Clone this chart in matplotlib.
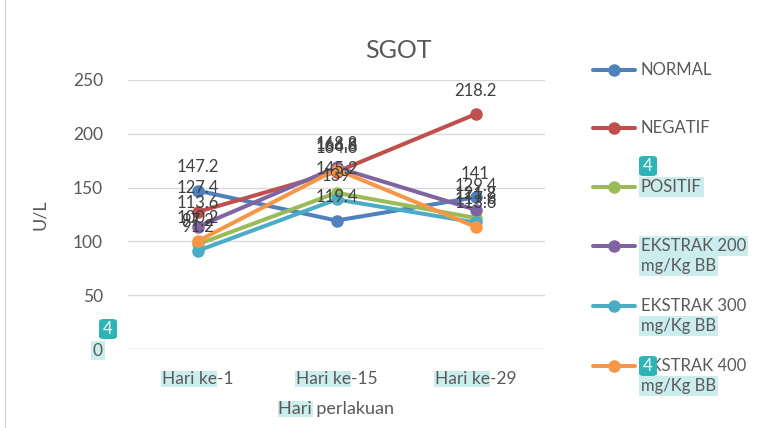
import matplotlib
matplotlib.use("Agg")
import matplotlib.pyplot as plt
from matplotlib.lines import Line2D
from matplotlib.patches import Rectangle, FancyBboxPatch
from matplotlib.transforms import IdentityTransform

categories = ["Hari ke-1", "Hari ke-15", "Hari ke-29"]
series_names = ["NORMAL", "NEGATIF", "POSITIF", "EKSTRAK 200\nmg/Kg BB",
                "EKSTRAK 300\nmg/Kg BB", "EKSTRAK 400\nmg/Kg BB"]
normal = [147.2, 119.4, 141]
negatif = [127.4, 164.6, 218.2]
positif = [97.2, 145.2, 121.8]
ekstrak_200 = [113.6, 168.8, 129.4]
ekstrak_300 = [91.2, 139, 117.6]
ekstrak_400 = [100.2, 166.8, 113.6]
y_ticks = [0, 50, 100, 150, 200, 250]

colors = ["#4F81BD", "#C0504D", "#9BBB59", "#8064A2", "#4BACC6", "#F79646"]
HL = "#cbeded"
BADGE = "#2cb5b4"
TXT = "#595959"
FONT = "Lato"
W, H = 778, 428


def fx(px):
    return px / W


def fy(py):
    return 1 - py / H


plt.rcParams["font.family"] = [FONT, "DejaVu Sans"]
fig = plt.figure(figsize=(W / 100, H / 100), dpi=100)
ax = fig.add_axes([fx(128), fy(349), fx(545) - fx(128), fy(80) - fy(349)])
ax.set_facecolor("none")

all_series = [normal, negatif, positif, ekstrak_200, ekstrak_300, ekstrak_400]
x = list(range(len(categories)))
for i, vals in enumerate(all_series):
    ax.plot(x, vals, color=colors[i], lw=2.9, marker="o", markersize=8,
            solid_capstyle="round", zorder=3 + i)
    for xi, v in zip(x, vals):
        ax.annotate(f"{v:g}", (xi, v), xytext=(0, 17), textcoords="offset points",
                    ha="center", va="center", fontsize=12, color="#404040", zorder=20)

ax.set_xlim(-0.5, 2.5)
ax.set_ylim(0, 250)
ax.set_yticks(y_ticks)
ax.set_xticks(x, categories)
ax.grid(axis="y", color="#d9d9d9", lw=1)
ax.set_axisbelow(True)
for s in ax.spines.values():
    s.set_visible(False)
ax.tick_params(length=0, labelsize=12.5, labelcolor=TXT)
ax.tick_params(axis="y", pad=18)
ax.tick_params(axis="x", pad=16)
ax.set_xlabel("Hari perlakuan", fontsize=13, color=TXT, labelpad=10)
ax.set_ylabel("U/L", fontsize=13, color=TXT, labelpad=18)
fig.text(fx(398), fy(50), "SGOT", fontsize=18, color=TXT, ha="center", va="center")

# highlighted "0"
ax.get_yticklabels()[0].set_bbox(dict(boxstyle="square,pad=0.1", fc=HL, ec="none"))

# legend drawn by hand to keep Excel's spacing
leg_y = [70, 128, 187, 246, 306, 366]
for i, name in enumerate(series_names):
    y = leg_y[i]
    fig.add_artist(Line2D([fx(593), fx(635)], [fy(y), fy(y)], color=colors[i],
                          lw=2.9, solid_capstyle="round"))
    fig.add_artist(Line2D([fx(614)], [fy(y)], color=colors[i], marker="o",
                          markersize=8, lw=0))
    lines = name.split("\n")
    for j, ln in enumerate(lines):
        hl = (i == 2) or (i == 3) or (j == 1)
        t = fig.text(fx(641), fy(y + 20 * j), ln, fontsize=12, color=TXT,
                     ha="left", va="center")
        if hl:
            t.set_bbox(dict(boxstyle="square,pad=0.12", fc=HL, ec="none"))

# left frame edge
fig.add_artist(Line2D([fx(5), fx(5)], [0, 1], color="#d9d9d9", lw=1))

# partial highlights on "Hari ke" and "Hari"
fig.canvas.draw()
renderer = fig.canvas.get_renderer()


def part_width(txt, size):
    t = fig.text(0, 0, txt, fontsize=size)
    w = t.get_window_extent(renderer).width
    t.remove()
    return w


for lab in ax.get_xticklabels():
    bb = lab.get_window_extent(renderer)
    w = part_width("Hari ke", 12.5)
    fig.add_artist(Rectangle((bb.x0 - 1, bb.y0), w + 1, bb.height, fc=HL, ec="none",
                             transform=IdentityTransform(), zorder=-5))
bb = ax.xaxis.label.get_window_extent(renderer)
w = part_width("Hari", 13)
fig.add_artist(Rectangle((bb.x0 - 1, bb.y0), w + 2, bb.height, fc=HL, ec="none",
                         transform=IdentityTransform(), zorder=-5))

# comment badges
for cxp, cyp in [(648, 166), (108, 329), (648, 366)]:
    fig.add_artist(FancyBboxPatch((fx(cxp - 9), fy(cyp + 10)), fx(18), fy(0) - fy(20),
                                  boxstyle="round,pad=0,rounding_size=0.006",
                                  fc=BADGE, ec="none", transform=fig.transFigure, zorder=30))
    fig.text(fx(cxp), fy(cyp), "4", color="white", fontsize=12, ha="center",
             va="center", zorder=31)

fig.savefig("out.png", dpi=100)
